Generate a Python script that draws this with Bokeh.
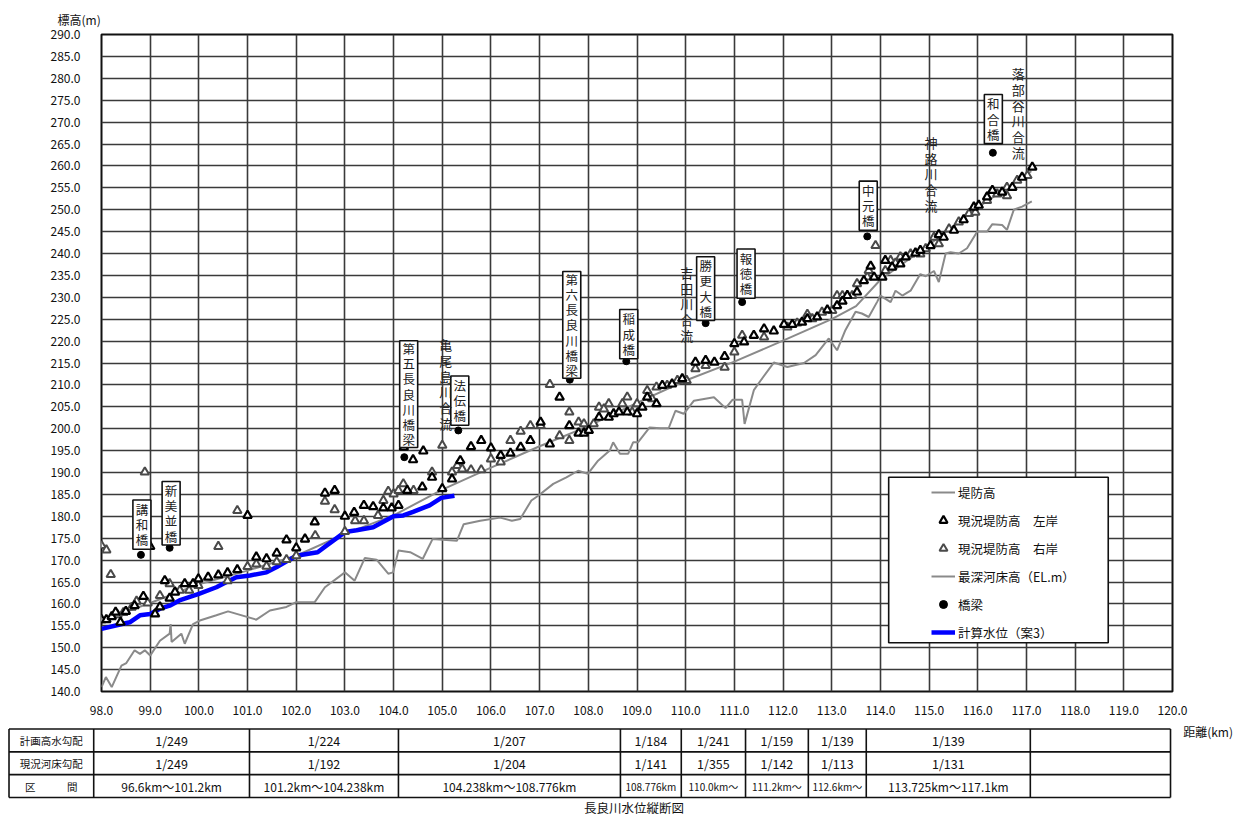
from bokeh.plotting import figure
from bokeh.models import Range1d, FixedTicker, NumeralTickFormatter, Legend, LegendItem, BoxAnnotation
from bokeh.layouts import column
from bokeh.core.properties import value
from bokeh.embed import file_html
from bokeh.resources import INLINE

FONT = "Noto Sans CJK JP"

# ---------------- data ----------------
x_ticks = [98.0, 99.0, 100.0, 101.0, 102.0, 103.0, 104.0, 105.0, 106.0, 107.0, 108.0,
           109.0, 110.0, 111.0, 112.0, 113.0, 114.0, 115.0, 116.0, 117.0, 118.0, 119.0, 120.0]
y_ticks = [140.0, 145.0, 150.0, 155.0, 160.0, 165.0, 170.0, 175.0, 180.0, 185.0, 190.0,
           195.0, 200.0, 205.0, 210.0, 215.0, 220.0, 225.0, 230.0, 235.0, 240.0, 245.0,
           250.0, 255.0, 260.0, 265.0, 270.0, 275.0, 280.0, 285.0, 290.0]

# 堤防高
levee_km = [98.0, 99.0, 100.0, 101.0, 102.0, 103.0, 104.0, 105.0, 106.0, 107.0, 108.0,
            109.0, 110.0, 111.0, 112.0, 113.0, 113.5, 114.0, 115.0, 116.0, 117.1]
levee_el = [156.2, 160.2, 164.5, 167.6, 171.0, 176.0, 180.2, 186.1, 191.1, 196.0, 200.6,
            205.9, 211.0, 215.3, 220.1, 225.0, 228.0, 234.0, 242.0, 250.5, 258.8]

# 現況堤防高 左岸
left_km = [98.0, 98.1, 98.21, 98.29, 98.39, 98.5, 98.68, 98.86, 99.0, 99.1, 99.2, 99.3, 99.4,
           99.51, 99.71, 99.88, 99.99, 100.19, 100.4, 100.59, 100.79, 101.0, 101.18, 101.39,
           101.6, 101.8, 102.0, 102.18, 102.38, 102.59, 102.79, 103.0, 103.19, 103.39, 103.58,
           103.79, 103.96, 104.1, 104.21, 104.28, 104.4, 104.59, 104.61, 104.79, 105.0, 105.2,
           105.37, 105.59, 105.8, 106.0, 106.2, 106.4, 106.61, 106.81, 107.02, 107.21, 107.41,
           107.61, 107.8, 107.91, 108.01, 108.22, 108.42, 108.52, 108.63, 108.8, 109.0, 109.11,
           109.21, 109.4, 109.52, 109.72, 109.93, 110.2, 110.41, 110.59, 110.8, 111.0, 111.2,
           111.4, 111.61, 111.81, 112.02, 112.19, 112.39, 112.5, 112.7, 112.91, 113.11, 113.22,
           113.32, 113.52, 113.66, 113.8, 113.87, 114.04, 114.1, 114.24, 114.41, 114.52, 114.72,
           114.82, 115.03, 115.2, 115.3, 115.51, 115.71, 115.92, 116.02, 116.19, 116.3, 116.5,
           116.71, 116.91, 117.12]
left_el = [156.4, 156.4, 157.1, 158.1, 155.8, 158.3, 159.6, 161.7, 173.1, 157.7, 159.3, 165.3, 161.3,
           162.7, 164.6, 164.6, 165.7, 166.1, 166.6, 167.1, 167.8, 180.2, 170.7, 170.3,
           171.6, 174.6, 172.8, 174.8, 178.7, 185.3, 185.9, 180.0, 180.9, 182.5, 182.2,
           181.9, 181.9, 182.5, 195.8, 185.9, 192.9, 186.7, 194.9, 188.9, 186.3, 188.5,
           192.7, 195.9, 197.3, 195.6, 193.9, 194.4, 195.8, 197.3, 201.5, 196.5, 207.2,
           200.7, 199.0, 199.0, 199.6, 202.6, 202.6, 203.4, 203.8, 203.8, 203.4, 204.9,
           207.2, 205.7, 209.9, 210.2, 211.4, 215.2, 215.6, 215.2, 216.5, 219.4, 219.8,
           221.3, 222.8, 222.3, 223.8, 223.8, 224.3, 225.1, 225.5, 227.1, 228.1, 229.1,
           230.4, 231.2, 233.8, 237.1, 234.6, 234.6, 238.4, 236.9, 237.6, 239.2, 240.1,
           240.7, 241.8, 244.3, 243.7, 245.3, 247.7, 250.6, 251.0, 252.9, 254.4, 254.0,
           255.1, 257.4, 259.7]

# 現況堤防高 右岸
right_km = [98.0, 98.1, 98.19, 98.33, 98.45, 98.62, 98.72, 98.89, 98.95, 99.2, 99.4, 99.61,
            99.8, 99.99, 100.4, 100.59, 100.79, 101.0, 101.18, 101.39, 101.6, 101.8, 102.0,
            102.39, 102.59, 102.79, 103.0, 103.21, 103.39, 103.68, 103.79, 103.89, 104.0,
            104.1, 104.2, 104.41, 104.79, 105.0, 105.2, 105.31, 105.41, 105.59, 105.8, 106.0,
            106.2, 106.4, 106.61, 106.81, 107.02, 107.21, 107.41, 107.61, 107.61, 107.8, 107.91,
            108.11, 108.22, 108.32, 108.42, 108.7, 108.8, 108.9, 109.0, 109.21, 109.31, 109.4,
            109.62, 109.83, 110.02, 110.2, 110.41, 110.8, 111.0, 111.16, 111.61, 112.09, 112.29,
            112.5, 112.6, 112.8, 113.01, 113.11, 113.22, 113.42, 113.52, 113.73, 113.76, 113.9,
            114.1, 114.21, 114.31, 114.41, 114.62, 114.82, 114.93, 115.1, 115.2, 115.41, 115.61,
            115.82, 115.95, 116.19, 116.4, 116.6, 116.6, 116.81, 117.02]
right_el = [173.3, 172.3, 166.7, 157.5, 158.0, 159.2, 160.6, 190.1, 160.2, 161.9, 164.6, 163.1,
            163.1, 164.2, 173.1, 165.3, 181.3, 168.5, 169.1, 168.6, 169.6, 170.1, 171.0,
            175.6, 183.4, 181.5, 176.5, 179.0, 179.0, 180.2, 183.6, 185.7, 185.1,
            185.9, 187.4, 185.9, 190.1, 196.2, 190.1, 191.6, 190.8, 190.6, 190.6, 193.1,
            192.4, 197.3, 199.4, 200.7, 200.7, 210.1, 198.4, 203.8, 197.3, 201.5, 201.1,
            201.1, 204.9, 204.5, 205.7, 205.7, 207.2, 203.8, 205.7, 208.7, 206.8, 209.5,
            209.9, 211.0, 211.0, 213.7, 214.4, 214.0, 217.5, 221.3, 220.9, 223.2, 224.1,
            226.1, 225.1, 226.6, 227.0, 230.4, 230.4, 230.4, 233.1, 234.6, 236.1, 241.8,
            236.1, 238.4, 237.8, 239.2, 239.9, 239.9, 241.1, 243.7, 242.2, 245.6, 247.2,
            249.1, 249.4, 252.1, 253.6, 253.2, 255.1, 256.7, 257.8]

# 最深河床高 (EL.m)
bed_km = [98.0, 98.09, 98.21, 98.41, 98.51, 98.68, 98.79, 98.89, 99.0, 99.2, 99.4, 99.42, 99.44,
          99.64, 99.71, 99.88, 100.02, 100.36, 100.6, 101.18, 101.46, 101.8, 102.0, 102.38,
          102.59, 103.0, 103.2, 103.41, 103.65, 103.89, 103.99, 104.1, 104.34, 104.6, 104.8,
          105.3, 105.44, 105.78, 106.19, 106.43, 106.6, 106.83, 106.97, 107.28, 107.55, 107.79,
          107.99, 108.2, 108.44, 108.51, 108.65, 108.82, 108.92, 109.02, 109.26, 109.48, 109.65,
          109.79, 109.96, 110.17, 110.58, 110.82, 110.96, 111.16, 111.21, 111.4, 111.54, 111.81,
          112.09, 112.43, 112.67, 112.94, 113.11, 113.28, 113.49, 113.62, 113.76, 113.93, 114.0,
          114.21, 114.31, 114.45, 114.62, 114.82, 114.93, 115.1, 115.2, 115.34, 115.44, 115.61,
          115.78, 115.99, 116.19, 116.3, 116.5, 116.6, 116.74, 116.91, 117.11]
bed_el = [141.0, 143.3, 141.0, 145.9, 146.5, 149.4, 148.6, 149.4, 148.2, 151.6, 153.2, 155.4, 151.3,
          153.2, 150.9, 155.4, 156.2, 157.4, 158.3, 156.4, 158.5, 159.3, 160.4, 160.4,
          163.8, 167.2, 165.3, 170.5, 170.1, 166.9, 167.2, 172.2, 171.8, 170.3, 174.8,
          174.4, 178.2, 179.0, 179.7, 179.0, 179.4, 183.6, 184.7, 187.4, 188.9, 190.4,
          189.7, 192.7, 195.0, 196.9, 194.3, 194.3, 196.9, 196.9, 200.3, 200.1, 200.1,
          204.1, 203.4, 206.4, 207.2, 204.7, 206.6, 206.6, 201.1, 208.8, 211.0, 215.1,
          214.1, 215.0, 216.8, 220.6, 217.9, 222.5, 226.7, 226.3, 225.5, 228.9, 230.4,
          228.9, 231.5, 230.4, 231.5, 235.3, 234.8, 236.0, 233.5, 240.0, 240.3, 240.0,
          241.2, 245.0, 245.0, 246.7, 246.5, 245.4, 250.0, 250.7, 251.9]

# 計算水位（案3）
wl_km = [98.0, 98.38, 98.58, 98.79, 99.0, 99.2, 99.4, 99.6, 100.0, 100.36, 100.57, 100.77,
         101.05, 101.39, 101.6, 102.0, 102.44, 102.62, 103.0, 103.24, 103.58, 104.0, 104.2,
         104.4, 104.74, 104.98, 105.25]
wl_el = [154.3, 155.3, 155.8, 157.4, 157.7, 158.9, 159.6, 160.8, 162.3, 163.8, 165.0, 166.1,
         166.5, 167.2, 168.4, 171.0, 171.8, 173.3, 176.4, 176.8, 177.5, 180.0, 180.2,
         181.0, 182.5, 184.2, 184.7]

# 橋梁
bridge_km = [98.81, 99.4, 104.22, 105.33, 107.62, 108.78, 110.41, 111.16, 113.73, 116.31]
bridge_el = [171.2, 172.8, 193.5, 199.6, 211.2, 215.4, 224.1, 228.9, 243.9, 263.0]

# annotations (vertical text)
note_text = ["講和橋", "新美並橋", "第五長良川橋梁", "亀尾島川合流", "法伝橋", "第六長良川橋梁",
             "稲成橋", "吉田川合流", "勝更大橋", "報徳橋", "中元橋", "神路川合流", "和合橋", "落部谷川合流"]
note_km = [98.83, 99.43, 104.31, 105.07, 105.36, 107.66, 108.83, 110.02, 110.41, 111.24,
           113.75, 115.04, 116.32, 116.83]
note_el = [178.1, 180.7, 207.9, 210.2, 206.4, 223.7, 221.6, 228.5, 232.0, 235.4,
           250.9, 258.2, 270.7, 272.1]
note_boxed = [True, True, True, False, True, True, True, False, True, True, True, False, True, False]

# table
row_labels = ["計画高水勾配", "現況河床勾配", "区　　　間"]
plan_slope = ["1/249", "1/224", "1/207", "1/184", "1/241", "1/159", "1/139", "1/139", ""]
bed_slope = ["1/249", "1/192", "1/204", "1/141", "1/355", "1/142", "1/113", "1/131", ""]
sections = ["96.6km～101.2km", "101.2km～104.238km", "104.238km～108.776km", "108.776km",
            "110.0km～", "111.2km～", "112.6km～", "113.725km～117.1km", ""]

# ---------------- layout constants ----------------
PX_PER_KM = 48.68
FIG_W = 1233
LEFT_B = 101
table_edges = [96.1, 97.84, 101.04, 104.10, 108.66, 109.91, 111.23, 112.52, 113.71, 117.08, 119.96]

# ---------------- main chart ----------------
p = figure(width=FIG_W, height=720, x_range=Range1d(98, 120), y_range=Range1d(140, 290),
           output_backend="svg", toolbar_location=None,
           min_border_left=LEFT_B, min_border_right=61, min_border_top=34, min_border_bottom=29,
           background_fill_color="white", border_fill_color="white")
p.frame_align = False

p.title.text = "標高(m)"
p.title.align = "left"
p.title.offset = -44
p.title.standoff = 14
p.title.text_font = FONT
p.title.text_font_size = "12px"
p.title.text_font_style = "normal"
p.title.text_color = "#111111"

p.xaxis.ticker = FixedTicker(ticks=x_ticks)
p.yaxis.ticker = FixedTicker(ticks=y_ticks)
p.xaxis.formatter = NumeralTickFormatter(format="0.0")
p.yaxis.formatter = NumeralTickFormatter(format="0.0")
for ax in (p.xaxis[0], p.yaxis[0]):
    ax.axis_line_color = None
    ax.major_tick_line_color = None
    ax.minor_tick_line_color = None
    ax.major_label_text_font = FONT
    ax.major_label_text_font_size = "12px"
    ax.major_label_text_color = "#111111"
p.xaxis.major_label_standoff = 8
p.yaxis.major_label_standoff = 15

p.xgrid.ticker = FixedTicker(ticks=x_ticks)
p.ygrid.ticker = FixedTicker(ticks=y_ticks)
for g in (p.xgrid[0], p.ygrid[0]):
    g.grid_line_color = "#3a3a3a"
    g.grid_line_width = 1.6
p.outline_line_color = "#111111"
p.outline_line_width = 2

r_bed = p.line(bed_km, bed_el, line_color="#8a8a8a", line_width=2)
r_levee = p.line(levee_km, levee_el, line_color="#8a8a8a", line_width=2)
r_wl = p.line(wl_km, wl_el, line_color="#0000ff", line_width=4.5)
r_right = p.scatter(right_km, right_el, marker="triangle", size=8.5, fill_color="white",
                    line_color="#4a4a4a", line_width=2.0)
r_left = p.scatter(left_km, left_el, marker="triangle", size=8.5, fill_color="white",
                   line_color="#000000", line_width=2.2)
r_bridge = p.scatter(bridge_km, bridge_el, marker="circle", size=7, fill_color="black",
                     line_color="black")

# annotation boxes and vertical text
LINE_PITCH = 14.4
bx = [k for k, b in zip(note_km, note_boxed) if b]
by = [e for e, b in zip(note_el, note_boxed) if b]
bt = ["\n".join(t) for t, b in zip(note_text, note_boxed) if b]
bh = [len(t) * LINE_PITCH + 6 for t, b in zip(note_text, note_boxed) if b]
ux = [k for k, b in zip(note_km, note_boxed) if not b]
uy = [e for e, b in zip(note_el, note_boxed) if not b]
ut = ["\n".join(t) for t, b in zip(note_text, note_boxed) if not b]
p.rect(bx, by, width=18, height=bh, width_units="screen", height_units="screen",
       fill_color="white", line_color="#111111", line_width=1.6)
p.text(bx, by, text=bt, text_font=value(FONT), text_font_size="12.5px", text_align="center",
       text_baseline="middle", text_line_height=0.8, text_color="#222222")
p.text(ux, uy, text=ut, text_font=value(FONT), text_font_size="13px", text_align="center",
       text_baseline="middle", text_line_height=0.83, text_color="#222222")

# legend with its own frame
legend_box = BoxAnnotation(left=114.17, right=118.68, bottom=151.12, top=188.93,
                           fill_color="white", fill_alpha=1.0,
                           line_color="#111111", line_width=1.6, line_alpha=1.0)
p.add_layout(legend_box)
legend = Legend(items=[
    LegendItem(label="堤防高", renderers=[r_levee]),
    LegendItem(label="現況堤防高　左岸", renderers=[r_left]),
    LegendItem(label="現況堤防高　右岸", renderers=[r_right]),
    LegendItem(label="最深河床高（EL.m）", renderers=[r_bed]),
    LegendItem(label="橋梁", renderers=[r_bridge]),
    LegendItem(label="計算水位（案3）", renderers=[r_wl]),
], location=(830, 45), padding=0, margin=0, spacing=0, label_height=28, glyph_height=20,
    glyph_width=24, label_standoff=3, border_line_alpha=0, background_fill_alpha=0,
    label_text_font=FONT, label_text_font_size="12.5px", label_text_color="#111111")
p.add_layout(legend)

# ---------------- table ----------------
ROW_PX = 22.83
t_height = 96
t_top = -8.5 / ROW_PX
x0 = 98 - LEFT_B / PX_PER_KM
t = figure(width=FIG_W, height=t_height, x_range=Range1d(x0, x0 + FIG_W / PX_PER_KM),
           y_range=Range1d(t_top + t_height / ROW_PX, t_top),
           output_backend="svg", toolbar_location=None, min_border=0,
           x_axis_location=None, y_axis_location=None,
           background_fill_color="white", border_fill_color="white")
t.frame_align = False
t.grid.visible = False
t.outline_line_color = None

x_left, x_right = table_edges[0], table_edges[-1]
t.segment(x0=[x_left] * 4, y0=[0, 1, 2, 3], x1=[x_right] * 4, y1=[0, 1, 2, 3],
          line_color="#111111", line_width=1.6)
t.segment(x0=table_edges, y0=[0] * len(table_edges), x1=table_edges, y1=[3] * len(table_edges),
          line_color="#111111", line_width=1.6)

label_x = (table_edges[0] + table_edges[1]) / 2
t.text([label_x] * 3, [0.5, 1.5, 2.5], text=row_labels, text_font=value(FONT),
       text_font_size="10.5px", text_align="center", text_baseline="middle", text_color="#111111")

centers = [(a + b) / 2 for a, b in zip(table_edges[1:-1], table_edges[2:])]
widths_px = [(b - a) * PX_PER_KM for a, b in zip(table_edges[1:-1], table_edges[2:])]
for row, vals in ((0.5, plan_slope), (1.5, bed_slope)):
    t.text(centers, [row] * len(centers), text=vals, text_font=value(FONT), text_font_size="12.5px",
           text_align="center", text_baseline="middle", text_color="#111111")
wide = [i for i, w in enumerate(widths_px) if w >= 80]
narrow = [i for i, w in enumerate(widths_px) if w < 80]
t.text([centers[i] for i in wide], [2.5] * len(wide), text=[sections[i] for i in wide],
       text_font=value(FONT), text_font_size="12px", text_align="center",
       text_baseline="middle", text_color="#111111")
t.text([centers[i] for i in narrow], [2.5] * len(narrow), text=[sections[i] for i in narrow],
       text_font=value(FONT), text_font_size="10px", text_align="center",
       text_baseline="middle", text_color="#111111")

t.text([120.22], [0.11], text=["距離(km)"], text_font=value(FONT), text_font_size="12px",
       text_align="left", text_baseline="middle", text_color="#111111")
t.text([108.94], [3.42], text=["長良川水位縦断図"], text_font=value(FONT), text_font_size="12.5px",
       text_align="center", text_baseline="middle", text_color="#111111")

layout = column(p, t, spacing=0)
open("out.html", "w").write(file_html(layout, INLINE))
